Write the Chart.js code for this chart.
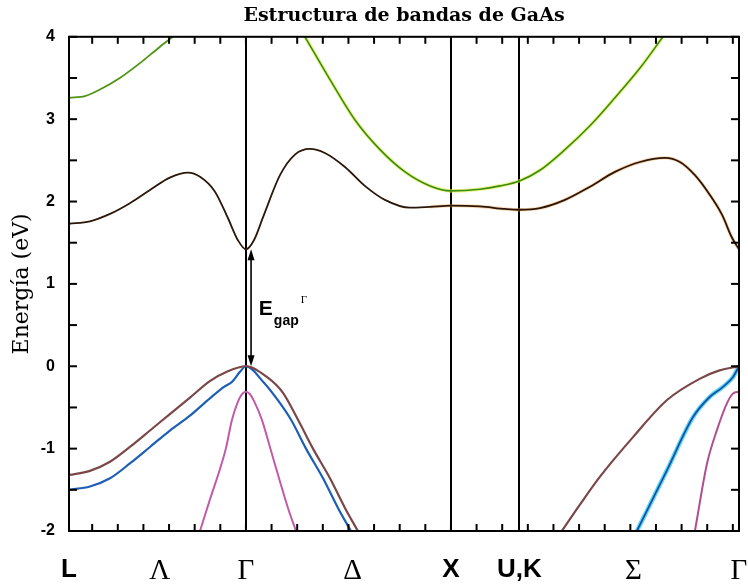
<!DOCTYPE html>
<html><head><meta charset="utf-8">
<script src="https://cdn.jsdelivr.net/npm/chart.js@4/dist/chart.umd.min.js"></script>
<style>html,body{margin:0;padding:0;background:#fff}#wrap{width:748px;height:588px}</style>
</head><body><div id="wrap"><canvas id="c" width="748" height="588"></canvas></div>
<script>
// High-symmetry points (k-path distance, units of 2π/a)
const pointLabels = ['L','Λ','Γ','Δ','X','U,K','Σ','Γ'];
const pointPos    = [-0.863,-0.42,0,0.52,1.0,1.334,1.89,2.405];
const linePos     = [0,1.0,1.334];         // vertical lines at Γ, X, U,K
const yMin = -2, yMax = 4;

// Lowest conduction band
const cb1K = [-0.863,-0.761,-0.663,-0.566,-0.468,-0.371,-0.283,-0.224,-0.151,-0.088,-0.039,0,0.039,0.085,0.166,0.239,0.312,0.385,0.483,0.580,0.678,0.800,0.898,1.0,1.141,1.263,1.334,1.434,1.556,1.678,1.8,1.922,2.044,2.117,2.19,2.263,2.322,2.371,2.405];
const cb1E = [1.73,1.76,1.85,1.98,2.14,2.29,2.35,2.30,2.12,1.80,1.53,1.42,1.53,1.82,2.32,2.57,2.64,2.59,2.42,2.19,2.02,1.925,1.935,1.95,1.94,1.91,1.90,1.92,2.02,2.18,2.36,2.48,2.53,2.48,2.32,2.08,1.84,1.56,1.42];
// Upper conduction band (two visible pieces)
const cb2aK = [-0.863,-0.785,-0.712,-0.615,-0.517,-0.419,-0.356];
const cb2aE = [3.26,3.28,3.36,3.50,3.68,3.88,4.0];
const cb2bK = [0.288,0.41,0.532,0.654,0.776,0.898,1.0,1.141,1.239,1.334,1.434,1.556,1.678,1.8,1.922,2.034];
const cb2bE = [4.0,3.48,2.99,2.63,2.36,2.19,2.13,2.15,2.19,2.25,2.38,2.63,2.92,3.26,3.62,4.0];
// Heavy hole
const hhK  = [-0.863,-0.761,-0.663,-0.566,-0.468,-0.371,-0.273,-0.176,-0.088,0,0.102,0.18,0.254,0.327,0.41,0.483,0.546];
const hhE  = [-1.32,-1.27,-1.16,-0.98,-0.78,-0.58,-0.38,-0.18,-0.06,0,-0.13,-0.32,-0.65,-1.0,-1.36,-1.72,-2.0];
const hh2K = [1.541,1.629,1.727,1.888,2.054,2.215,2.31,2.405];
const hh2E = [-2.0,-1.68,-1.34,-0.86,-0.41,-0.15,-0.05,0];
// Light hole
const lhK  = [-0.863,-0.761,-0.663,-0.566,-0.468,-0.371,-0.273,-0.176,-0.107,-0.068,-0.03,0,0.088,0.161,0.22,0.293,0.376,0.449,0.512];
const lhE  = [-1.50,-1.46,-1.36,-1.18,-0.98,-0.78,-0.60,-0.39,-0.25,-0.19,-0.07,0,-0.20,-0.43,-0.65,-1.0,-1.36,-1.72,-2.0];
const lh2K = [1.907,2.054,2.180,2.263,2.327,2.376,2.405];
const lh2E = [-2.0,-1.26,-0.62,-0.37,-0.25,-0.13,0];
// Split-off band
const soK  = [-0.224,-0.176,-0.127,-0.098,-0.068,-0.039,-0.02,0,0.02,0.039,0.078,0.117,0.166,0.205,0.244];
const soE  = [-2.0,-1.62,-1.25,-1.0,-0.65,-0.43,-0.34,-0.31,-0.34,-0.42,-0.65,-0.98,-1.40,-1.72,-2.0];
const so2K = [2.19,2.249,2.298,2.346,2.376,2.405];
const so2E = [-2.0,-1.18,-0.77,-0.45,-0.33,-0.31];
// Gap annotation
const gapK = 0.025, gapTop = 1.42, gapBottom = 0;

const pts = (K,E) => K.map((k,i)=>({x:k,y:E[i]}));
const ds = (K,E,color,w) => ({data:pts(K,E),borderColor:color,borderWidth:w,pointRadius:0,fill:false,
  cubicInterpolationMode:'monotone',clip:0});

const datasets = [
  ds(cb1K,cb1E,'#2b1709',1.8),
  ds(cb2aK,cb2aE,'#4f9414',1.8),
  ds(cb2bK,cb2bE,'#3f8a10',1.6),
  ds(hhK,hhE,'#7a4848',2.2),
  ds(hh2K,hh2E,'#7a4848',2.2),
  ds(lhK,lhE,'#1d5fb5',2.2),
  ds(lh2K,lh2E,'#1d4fa5',1.8),
  ds(soK,soE,'#c25aa8',2),
  ds(so2K,so2E,'#b0508f',2),
  // halos (drawn underneath)
  ds(cb2bK,cb2bE,'rgba(215,240,60,0.6)',3.6),
  ds(cb1K.slice(22),cb1E.slice(22),'rgba(245,165,80,0.45)',3.4),
  ds(lh2K,lh2E,'rgba(60,210,240,0.85)',4.5),
];

const decor = {
  id:'decor',
  beforeDatasetsDraw(chart){
    const {ctx, chartArea:a, scales:{x}} = chart;
    ctx.save();
    ctx.strokeStyle='#000'; ctx.lineWidth=2;
    linePos.forEach(v=>{const px=Math.round(x.getPixelForValue(v));
      ctx.beginPath(); ctx.moveTo(px,a.top); ctx.lineTo(px,a.bottom); ctx.stroke();});
    ctx.restore();
  },
  afterDatasetsDraw(chart){
    const {ctx, chartArea:a, scales:{x,y}} = chart;
    ctx.save();
    ctx.strokeStyle='#000'; ctx.lineWidth=2;
    // minor ticks along x (every 0.125 from Γ)
    for(let n=-6;n<=19;n++){
      const px=x.getPixelForValue(n*0.125);
      if(px<=a.left+1||px>=a.right-1) continue;
      ctx.beginPath(); ctx.moveTo(px,a.top); ctx.lineTo(px,a.top+7); ctx.stroke();
      ctx.beginPath(); ctx.moveTo(px,a.bottom); ctx.lineTo(px,a.bottom-7); ctx.stroke();
    }
    for(let e=yMin;e<=yMax;e+=0.5){
      const py=y.getPixelForValue(e);
      ctx.beginPath(); ctx.moveTo(a.left,py); ctx.lineTo(a.left+8,py); ctx.stroke();
      ctx.beginPath(); ctx.moveTo(a.right,py); ctx.lineTo(a.right-8,py); ctx.stroke();
    }
    ctx.strokeRect(a.left,a.top,a.right-a.left,a.bottom-a.top);
    // double arrow
    const ax=x.getPixelForValue(gapK), y1=y.getPixelForValue(gapTop), y2=y.getPixelForValue(gapBottom);
    ctx.lineWidth=1.6;
    ctx.beginPath(); ctx.moveTo(ax,y1+8); ctx.lineTo(ax,y2-8); ctx.stroke();
    ctx.fillStyle='#000';
    ctx.beginPath(); ctx.moveTo(ax,y1); ctx.lineTo(ax-3.5,y1+11); ctx.lineTo(ax+3.5,y1+11); ctx.closePath(); ctx.fill();
    ctx.beginPath(); ctx.moveTo(ax,y2); ctx.lineTo(ax-3.5,y2-11); ctx.lineTo(ax+3.5,y2-11); ctx.closePath(); ctx.fill();
    // label E_gap^Γ
    const tx=x.getPixelForValue(0.063), ty=y.getPixelForValue(0.62);
    ctx.textBaseline='alphabetic'; ctx.textAlign='left';
    ctx.font='bold 21px "Liberation Sans", Arial, sans-serif';
    ctx.fillText('E',tx,ty);
    const w1=ctx.measureText('E').width;
    ctx.font='bold 14px "Liberation Sans", Arial, sans-serif';
    ctx.fillText('gap',tx+w1+1,ty+10);
    const w2=ctx.measureText('gap').width;
    ctx.font='11px "Liberation Serif", serif';
    ctx.fillText('Γ',tx+w1+w2+3,ty-12);
    ctx.restore();
  }
};

new Chart(document.getElementById('c'),{
  type:'line',
  data:{datasets},
  plugins:[decor],
  options:{
    responsive:false, animation:false, devicePixelRatio:1,
    layout:{padding:{left:0,right:9,top:0,bottom:0}},
    plugins:{
      legend:{display:false}, tooltip:{enabled:false},
      title:{display:true,text:'Estructura de bandas de GaAs',fullSize:false,color:'#000',
        font:{family:'"DejaVu Serif", serif',size:19,weight:'bold'},padding:{top:5,bottom:9}}
    },
    scales:{
      x:{type:'linear',min:pointPos[0],max:pointPos[pointPos.length-1],
        afterBuildTicks:s=>{s.ticks=pointPos.map(v=>({value:v}));},
        afterFit:s=>{s.height=57; s.paddingLeft=0; s.paddingRight=0;},
        grid:{display:false,drawTicks:false},border:{display:false},
        ticks:{autoSkip:false,maxRotation:0,color:'#000',padding:23,
          callback:(v,i)=>pointLabels[i],
          font:(c)=>{const l=pointLabels[c.index]||'';
            return /[ΛΓΔΣ]/.test(l)?{family:'"Liberation Serif", serif',size:29,weight:'normal'}
                                   :{family:'"Liberation Sans", Arial, sans-serif',size:26,weight:'bold'};}}
      },
      y:{type:'linear',min:yMin,max:yMax,
        afterFit:s=>{s.width=69; s.paddingTop=0; s.paddingBottom=0;},
        grid:{display:false,drawTicks:false},border:{display:false},
        ticks:{stepSize:1,color:'#000',padding:14,font:{family:'"Liberation Sans", Arial, sans-serif',size:16,weight:'bold'}},
        title:{display:true,text:'Energía (eV)',color:'#000',font:{family:'"DejaVu Serif", serif',size:22},padding:{top:9,bottom:0}}
      }
    }
  }
});
</script></body></html>
